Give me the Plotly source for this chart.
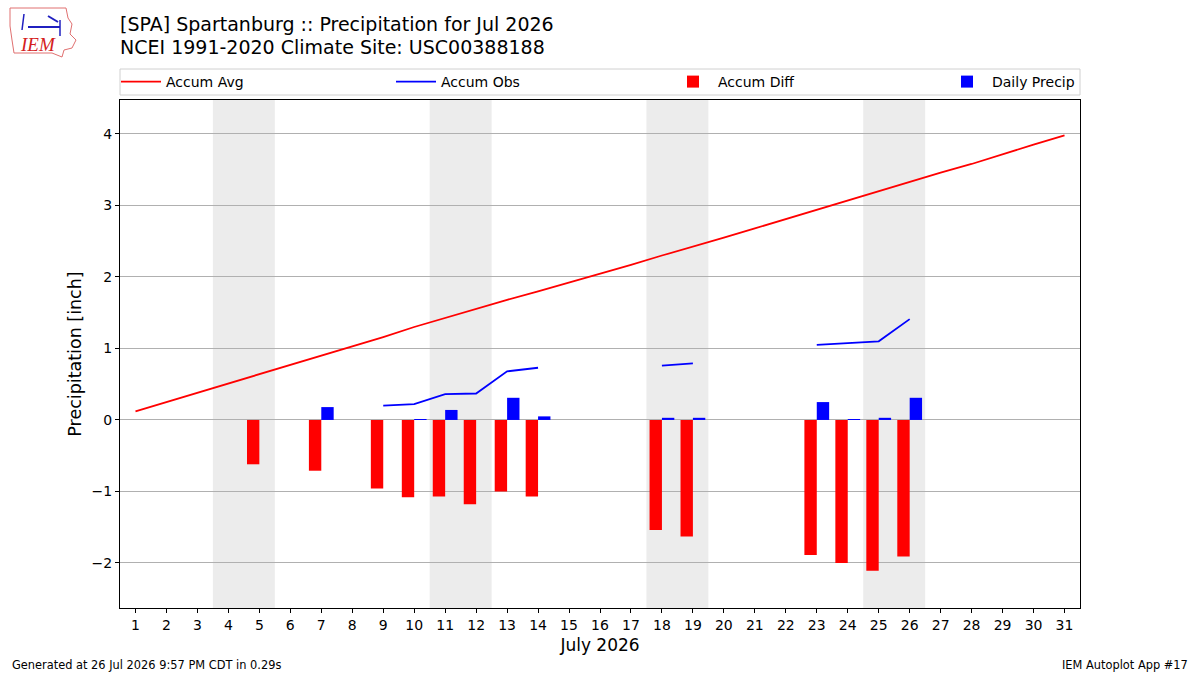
import plotly.graph_objects as go

days = list(range(1, 32))
accum_avg = [0.12, 0.25, 0.38, 0.50, 0.63, 0.76, 0.89, 1.03, 1.16, 1.30,
             1.43, 1.55, 1.68, 1.80, 1.92, 2.04, 2.17, 2.30, 2.42, 2.55,
             2.68, 2.81, 2.94, 3.07, 3.21, 3.33, 3.46, 3.58, 3.72, 3.85, 3.98]
N = None
accum_obs = [N, N, N, N, N, N, N, N, 0.20, 0.22,
             0.36, 0.37, 0.68, 0.73, N, N, N, 0.76, 0.79, N,
             N, N, 1.05, 1.07, 1.10, 1.41, N, N, N, N, N]
diff_days = [5, 7, 9, 10, 11, 12, 13, 14, 18, 19, 23, 24, 25, 26]
accum_diff = [-0.62, -0.71, -0.96, -1.08, -1.07, -1.18, -1.00, -1.07,
              -1.54, -1.63, -1.89, -2.00, -2.11, -1.91]
precip_days = [7, 10, 11, 13, 14, 18, 19, 23, 24, 25, 26]
daily_precip = [0.18, 0.01, 0.14, 0.31, 0.05, 0.03, 0.03, 0.25, 0.01, 0.03, 0.31]
weekends = [(3.5, 5.5), (10.5, 12.5), (17.5, 19.5), (24.5, 26.5)]

title1 = "[SPA] Spartanburg :: Precipitation for Jul 2026"
title2 = "NCEI 1991-2020 Climate Site: USC00388188"

FONT = "DejaVu Sans"


def px(xp):
    return (xp - 120) / 960


def py(yp):
    return (608 - yp) / 508


fig = go.Figure()
fig.add_trace(go.Scatter(x=days, y=accum_avg, mode="lines", name="Accum Avg",
                         line=dict(color="red", width=1.8), legend="legend"))
fig.add_trace(go.Scatter(x=days, y=accum_obs, mode="lines", name="Accum Obs",
                         line=dict(color="blue", width=1.8), connectgaps=False,
                         legend="legend2"))
fig.add_trace(go.Bar(x=diff_days, y=accum_diff, name="Accum Diff",
                     marker=dict(color="red", line=dict(width=0)),
                     width=0.4, offset=-0.4, legend="legend3"))
fig.add_trace(go.Bar(x=precip_days, y=daily_precip, name="Daily Precip",
                     marker=dict(color="blue", line=dict(width=0)),
                     width=0.4, offset=0.0, legend="legend4"))

for a, b in weekends:
    fig.add_shape(type="rect", xref="x", yref="paper", x0=a, x1=b, y0=0, y1=1,
                  fillcolor="#ececec", line=dict(width=0), layer="below")

# legend frame
fig.add_shape(type="rect", xref="paper", yref="paper", x0=px(120), x1=px(1080),
              y0=py(95), y1=py(69), line=dict(color="#d0d0d0", width=1),
              fillcolor="rgba(0,0,0,0)")


def leg(xpix):
    return dict(orientation="h", x=px(xpix), xanchor="left", y=py(82), yanchor="middle",
                borderwidth=0, bgcolor="rgba(0,0,0,0)",
                font=dict(family=FONT, size=14), itemwidth=40)


fig.update_layout(
    width=1200, height=675,
    margin=dict(l=120, r=120, t=100, b=67),
    paper_bgcolor="white", plot_bgcolor="white",
    font=dict(family=FONT, size=14, color="black"),
    barmode="overlay",
    showlegend=True,
    legend=leg(116), legend2=leg(391), legend3=leg(668), legend4=leg(942),
    xaxis=dict(range=[0.5, 31.5], tickmode="array", tickvals=days,
               ticktext=[str(d) for d in days],
               showgrid=False, zeroline=False, showline=True, linecolor="black",
               linewidth=1, mirror=True, ticks="outside", ticklen=4,
               tickcolor="black", tickfont=dict(size=14),
               title=dict(text="July 2026", font=dict(size=17), standoff=7)),
    yaxis=dict(range=[-2.63, 4.475], tickmode="array", tickvals=[-2, -1, 0, 1, 2, 3, 4],
               ticktext=["\u22122", "\u22121", "0", "1", "2", "3", "4"],
               showgrid=True, gridcolor="#b0b0b0", gridwidth=1,
               zeroline=False, showline=True, linecolor="black",
               linewidth=1, mirror=True, ticks="outside", ticklen=4,
               tickcolor="black", tickfont=dict(size=14),
               title=dict(text="Precipitation [inch]", font=dict(size=17.5), standoff=5)),
)

# Title lines
fig.add_annotation(text=title1, xref="paper", yref="paper", x=0, y=py(24),
                   xanchor="left", yanchor="middle", showarrow=False,
                   font=dict(family=FONT, size=19), xshift=-2)
fig.add_annotation(text=title2, xref="paper", yref="paper", x=0, y=py(47),
                   xanchor="left", yanchor="middle", showarrow=False,
                   font=dict(family=FONT, size=19), xshift=-2)

# Footer
fig.add_annotation(text="Generated at 26 Jul 2026 9:57 PM CDT in 0.29s", xref="paper", yref="paper",
                   x=px(10), y=py(665), xanchor="left", yanchor="middle",
                   showarrow=False, font=dict(family=FONT, size=11.4))
fig.add_annotation(text="IEM Autoplot App #17", xref="paper", yref="paper",
                   x=px(1190), y=py(665), xanchor="right", yanchor="middle",
                   showarrow=False, font=dict(family=FONT, size=11.4))

# Logo approximation
outline = [(10, 8), (66, 8), (68, 18), (72, 24), (70, 34), (76, 40), (72, 48),
           (64, 50), (62, 57), (52, 53), (14, 53), (12, 40), (10, 26)]
path = "M " + " L ".join(f"{px(a)},{py(b)}" for a, b in outline) + " Z"
fig.add_shape(type="path", xref="paper", yref="paper", path=path,
              line=dict(color="#e07070", width=1), fillcolor="rgba(0,0,0,0)")
fig.add_annotation(text="<i>IEM</i>", xref="paper", yref="paper", x=px(38), y=py(45),
                   xanchor="center", yanchor="middle", showarrow=False,
                   font=dict(family="Liberation Serif", size=19, color="#d42020"))
fig.add_shape(type="line", xref="paper", yref="paper", x0=px(28), x1=px(60), y0=py(27), y1=py(27),
              line=dict(color="#2020c0", width=2))
fig.add_shape(type="line", xref="paper", yref="paper", x0=px(60), x1=px(60), y0=py(20), y1=py(36),
              line=dict(color="#2020c0", width=1.5))
fig.add_shape(type="line", xref="paper", yref="paper", x0=px(48), x1=px(58), y0=py(16), y1=py(22),
              line=dict(color="#2020c0", width=2))
fig.add_shape(type="line", xref="paper", yref="paper", x0=px(24), x1=px(22), y0=py(14), y1=py(30),
              line=dict(color="#2020c0", width=1.5))

fig.write_html("out.html")
